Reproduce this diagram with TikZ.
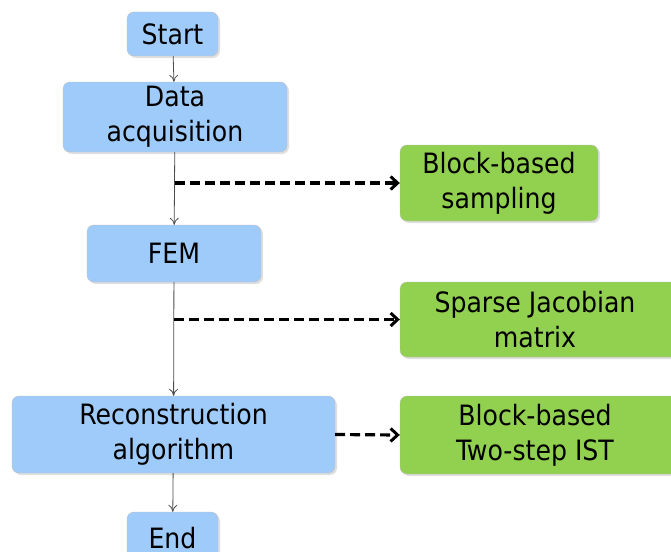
\documentclass[tikz,border=0pt]{standalone}
\usepackage{fontspec}
\setmainfont{DejaVu Sans Condensed}
\usetikzlibrary{shadows,arrows.meta}
\definecolor{stepblue}{RGB}{158,203,249}
\definecolor{stepgreen}{RGB}{146,208,80}
\tikzset{
  bluebox/.style  = {draw=gray!50, fill=stepblue, rounded corners=7pt, align=center,
                     drop shadow={opacity=0.25, shadow xshift=2pt, shadow yshift=-2pt},
                     font=\fontsize{28}{35}\selectfont, inner sep=0pt},
  greenbox/.style = {bluebox, fill=stepgreen},
  flow/.style     = {draw=black!70, line width=0.8pt, -{To[length=7pt,width=9pt]}},
  side/.style     = {draw=black, line width=3.2pt, dash pattern=on 10pt off 5pt,
                     -{Straight Barb[length=7pt,width=13pt,line width=3pt]}}
}
\begin{document}
\begin{tikzpicture}[x=1pt, y=-1pt]
        \useasboundingbox (0,0) rectangle (671,551);
        \node[bluebox,  minimum width=91pt,  minimum height=44pt] at (172.5, 34)  (start) {Start};
        \node[bluebox,  minimum width=224pt, minimum height=70pt] at (175, 117)   (data)  {Data\\acquisition};
        \node[greenbox, minimum width=198pt, minimum height=76pt] at (499, 183)   (bbs)   {Block-based\\sampling};
        \node[bluebox,  minimum width=174pt, minimum height=57pt] at (174, 253.5) (fem)   {FEM};
        \node[greenbox, minimum width=290pt, minimum height=75pt] at (545, 319.5) (sjm)   {\hspace*{-20pt}Sparse Jacobian\\\hspace*{-20pt}matrix};
        \node[bluebox,  minimum width=323pt, minimum height=77pt] at (173.5, 434.5) (rec) {Reconstruction\\algorithm};
        \node[greenbox, minimum width=290pt, minimum height=78pt] at (545, 435)   (ist)   {\hspace*{-20pt}Block-based\\\hspace*{-20pt}Two-step IST};
        \node[bluebox,  minimum width=91pt,  minimum height=62pt] at (172.5, 543) (end)   {\raisebox{10pt}{End}};

        \coordinate (b1) at (data.south |- bbs.west);
        \coordinate (b2) at (fem.south |- sjm.west);

        \draw[flow] (start) -- (data);
        \draw[flow] (data)  -- (fem);
        \draw[flow] (fem)   -- (rec);
        \draw[flow] (rec)   -- (end);
        \draw[side] (b1) -- (bbs.west);
        \draw[side] (b2) -- (sjm.west);
        \draw[side] (rec.east) -- (ist.west);
      \end{tikzpicture}
\end{document}
